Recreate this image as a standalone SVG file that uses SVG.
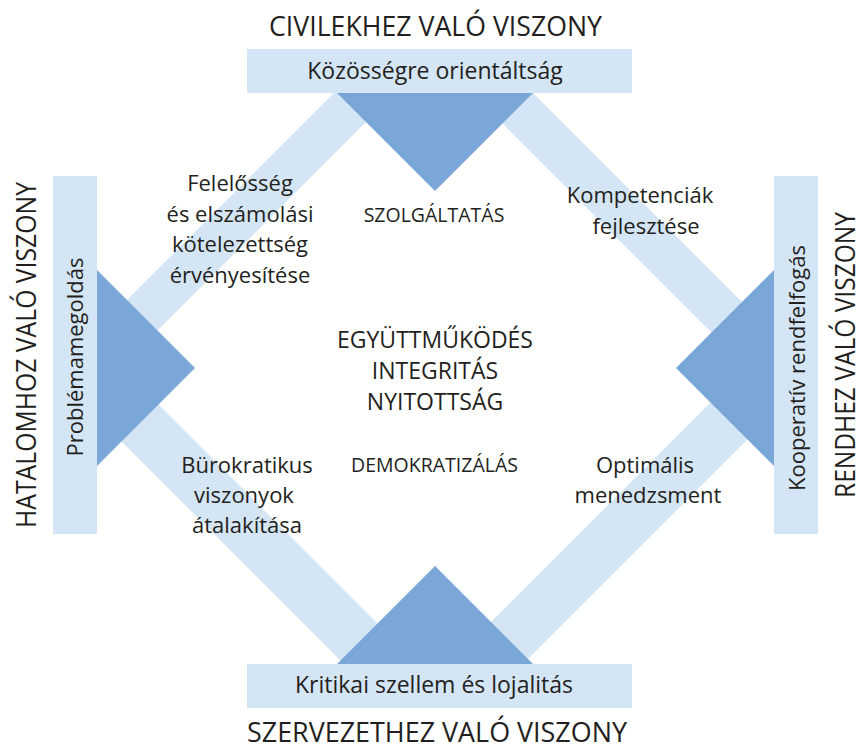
<svg xmlns="http://www.w3.org/2000/svg" width="858" height="746" viewBox="0 0 858 746">
  <style>
    .band { fill: #d4e5f5; }
    .bar { fill: #d4e5f5; }
    .tri { fill: #7ba7d8; }
    text { font-family: "Open Sans", "Noto Sans", "Liberation Sans", sans-serif; fill: #231f20; text-anchor: middle; }
    .title { font-size: 28px; }
    .bar-label { font-size: 23px; }
    .label { font-size: 22px; }
    .core { font-size: 23px; }
    .value { font-size: 19.5px; }
  </style>

  <rect width="858" height="746" fill="#ffffff"/>

  <!-- diagonal bands linking the four bars -->
  <g id="connectors">
    <polygon class="band" points="75,352 356,71 417,71 75,413"/>
    <polygon class="band" points="450,71 511,71 796,356 796,417"/>
    <polygon class="band" points="75,321 440,686 366,686 75,395"/>
    <polygon class="band" points="427,686 796,317 796,391 501,686"/>
  </g>

  <!-- top: relation to citizens -->
  <g id="node-civil">
    <rect class="bar" x="247" y="49" width="385" height="44"/>
    <polygon class="tri" points="337,93 533,93 435,191"/>
    <text class="title" x="435.5" y="36" textLength="333" lengthAdjust="spacingAndGlyphs">CIVILEKHEZ VALÓ VISZONY</text>
    <text class="bar-label" x="435" y="79">Közösségre orientáltság</text>
  </g>

  <!-- bottom: relation to the organisation -->
  <g id="node-szervezet">
    <rect class="bar" x="247" y="664" width="385" height="44"/>
    <polygon class="tri" points="337,664 533,664 435,566"/>
    <text class="bar-label" x="434" y="693">Kritikai szellem és lojalitás</text>
    <text class="title" x="437" y="742" textLength="380" lengthAdjust="spacingAndGlyphs">SZERVEZETHEZ VALÓ VISZONY</text>
  </g>

  <!-- left: relation to power -->
  <g id="node-hatalom">
    <rect class="bar" x="53" y="176" width="44" height="358"/>
    <polygon class="tri" points="97,270 97,466 195,368"/>
    <text class="title" transform="translate(36,355) rotate(-90)" textLength="346" lengthAdjust="spacingAndGlyphs">HATALOMHOZ VALÓ VISZONY</text>
    <text class="label" transform="translate(83,357) rotate(-90)">Problémamegoldás</text>
  </g>

  <!-- right: relation to public order -->
  <g id="node-rend">
    <rect class="bar" x="774" y="176" width="44" height="358"/>
    <polygon class="tri" points="774,270 774,466 676,368"/>
    <text class="title" transform="translate(855,355) rotate(-90)" textLength="286" lengthAdjust="spacingAndGlyphs">RENDHEZ VALÓ VISZONY</text>
    <text class="label" transform="translate(805,368) rotate(-90)">Kooperatív rendfelfogás</text>
  </g>

  <!-- band labels -->
  <g id="label-felelosseg">
    <text class="label" x="240" y="191">Felelősség</text>
    <text class="label" x="240" y="221.5">és elszámolási</text>
    <text class="label" x="240" y="252">kötelezettség</text>
    <text class="label" x="240" y="282.5">érvényesítése</text>
  </g>
  <g id="label-kompetencia">
    <text class="label" x="640" y="203">Kompetenciák</text>
    <text class="label" x="646" y="234">fejlesztése</text>
  </g>
  <g id="label-burokratikus">
    <text class="label" x="247" y="473">Bürokratikus</text>
    <text class="label" x="244" y="503">viszonyok</text>
    <text class="label" x="247" y="533">átalakítása</text>
  </g>
  <g id="label-optimalis">
    <text class="label" x="645" y="473">Optimális</text>
    <text class="label" x="648" y="503">menedzsment</text>
  </g>

  <!-- values inside the diamond -->
  <g id="center">
    <text class="value" x="434" y="222">SZOLGÁLTATÁS</text>
    <text class="core" x="435" y="348">EGYÜTTMŰKÖDÉS</text>
    <text class="core" x="435" y="379">INTEGRITÁS</text>
    <text class="core" x="435" y="410">NYITOTTSÁG</text>
    <text class="value" x="434.5" y="472">DEMOKRATIZÁLÁS</text>
  </g>
</svg>
